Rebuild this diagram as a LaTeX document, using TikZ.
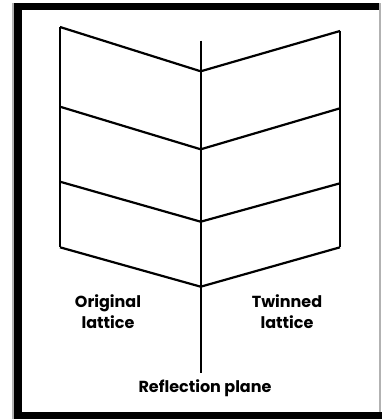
\documentclass[tikz,border=0pt]{standalone}
\usepackage{fontspec}
\newfontfamily\labfont{Poppins}
\begin{document}
\begin{tikzpicture}[x=1pt,y=-1pt,
  latline/.style={line width=2.2pt,line join=miter,line cap=butt},
  lab/.style={font=\labfont\fontsize{16}{21}\selectfont\bfseries,align=center,inner sep=0pt}]
\useasboundingbox (0,0) rectangle (382,419);
% frame
\fill[gray!60] (12,3) rectangle (14,419);
\fill[black] (14,3) rectangle (22,419);
\fill[black] (14,3) rectangle (380,10);
\fill[black] (14,412) rectangle (382,419);
\fill[gray!60] (379,3) rectangle (381,412);
% lattice points
\coordinate (L1) at (60,27);
\coordinate (L2) at (60,106.7);
\coordinate (L3) at (60,181.7);
\coordinate (L4) at (60,247.3);
\coordinate (C1) at (200.7,71.3);
\coordinate (C2) at (200.7,149.3);
\coordinate (C3) at (200.7,221.7);
\coordinate (C4) at (200.7,286.7);
\coordinate (R1) at (340,31);
\coordinate (R2) at (340,108.3);
\coordinate (R3) at (340,183.3);
\coordinate (R4) at (340,247.3);
\coordinate (Ctop) at (200.7,40.7);
\coordinate (Cbot) at (200.7,373);
% verticals
\draw[latline] (L1) -- (L4);
\draw[latline] (R1) -- (R4);
\draw[latline] (Ctop) -- (Cbot);
% zigzags
\draw[latline] (L1) -- (C1) -- (R1);
\draw[latline] (L2) -- (C2) -- (R2);
\draw[latline] (L3) -- (C3) -- (R3);
\draw[latline] (L4) -- (C4) -- (R4);
% labels
\node[lab] (orig) at (108,312) {Original\\lattice};
\node[lab] (twin) at (287,312) {Twinned\\lattice};
\node[lab] (refl) at (205,388) {Reflection plane};
\end{tikzpicture}
\end{document}
